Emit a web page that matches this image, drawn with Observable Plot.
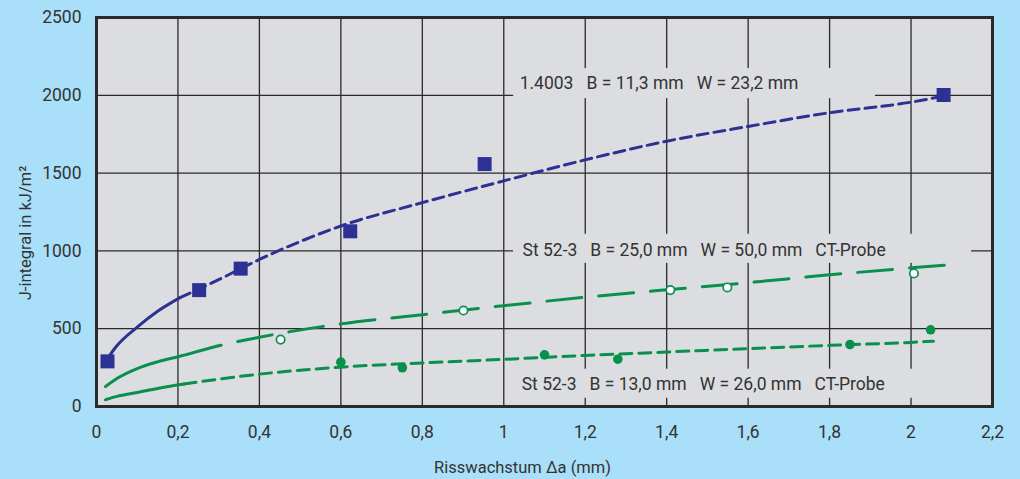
<!DOCTYPE html>
<html>
<head>
<meta charset="utf-8">
<script src="https://cdn.jsdelivr.net/npm/d3@7"></script>
<script src="https://cdn.jsdelivr.net/npm/@observablehq/plot@0.6"></script>
<style>
html, body { margin: 0; padding: 0; background: #a9dff9; }
#chart svg { display: block; }
</style>
</head>
<body>
<div id="chart"></div>
<script>
// ---------- axis ticks ----------
const xTicks = [0, 0.2, 0.4, 0.6, 0.8, 1, 1.2, 1.4, 1.6, 1.8, 2, 2.2];
const xTickLabels = ["0", "0,2", "0,4", "0,6", "0,8", "1", "1,2", "1,4", "1,6", "1,8", "2", "2,2"];
const yTicks = [0, 500, 1000, 1500, 2000, 2500];
const xTitle = "Risswachstum \u0394a (mm)";
const yTitle = "J-integral in kJ/m\u00b2";

// ---------- 1.4003  B = 11,3 mm  W = 23,2 mm (squares) ----------
const steelPointsX = [0.027, 0.252, 0.354, 0.623, 0.953, 2.080];
const steelPointsY = [290, 748, 886, 1126, 1558, 2002];
const steelCurveX = [0.025, 0.05, 0.1, 0.15, 0.205, 0.3, 0.35, 0.4, 0.5, 0.6, 0.8, 1.0, 1.2, 1.4, 1.6, 1.8, 2.0, 2.08];
const steelCurveY = [300, 390, 510, 612, 700, 815, 880, 945, 1060, 1160, 1310, 1450, 1585, 1705, 1800, 1888, 1956, 1995];
const steelSolidUntil = 0.205;

// ---------- St 52-3  B = 25,0 mm (open circles) ----------
const st25PointsX = [0.452, 0.901, 1.409, 1.549, 2.007];
const st25PointsY = [430, 617, 748, 765, 855];
const st25CurveX = [0.022, 0.05, 0.1, 0.15, 0.2, 0.223, 0.3, 0.4, 0.6, 0.8, 1.0, 1.2, 1.4, 1.6, 1.8, 2.0, 2.1];
const st25CurveY = [128, 180, 244, 287, 320, 335, 390, 445, 531, 590, 648, 702, 750, 796, 846, 891, 912];
const st25SolidUntil = 0.223;

// ---------- St 52-3  B = 13,0 mm (filled circles) ----------
const st13PointsX = [0.600, 0.751, 1.100, 1.280, 1.850, 2.048];
const st13PointsY = [285, 249, 332, 304, 398, 493];
const st13CurveX = [0.022, 0.05, 0.1, 0.15, 0.215, 0.4, 0.6, 0.8, 1.0, 1.2, 1.4, 1.6, 1.8, 2.0, 2.055];
const st13CurveY = [43, 65, 90, 116, 145, 208, 253, 280, 303, 328, 350, 372, 393, 412, 420];
const st13SolidUntil = 0.215;

// ---------- annotations ----------
const S = "\u00a0\u00a0\u00a0";
const labelTexts = [
  "1.4003" + S + "B = 11,3 mm" + S + "W = 23,2 mm",
  "St 52-3" + S + "B = 25,0 mm" + S + "W = 50,0 mm" + S + "CT-Probe",
  "St 52-3" + S + "B = 13,0 mm" + S + "W = 26,0 mm" + S + "CT-Probe"
];
const labelX = [1.039, 1.046, 1.044];
const labelY = [2075, 1004, 143];

// ---------- styles ----------
const blue = "#2d3194";
const green = "#08904c";
const plotBg = "#dcdde0";
const ink = "#2a2a2a";
const textColor = "#333333";
const fontFamily = "Roboto, 'Noto Sans', sans-serif";
const boxPad = [ // [left, right, up, down] of label background boxes, px
  [6, 77, 15, 15],
  [9, 86, 16, 13],
  [6, 86, 15, 14]
];

const pts = (xs, ys) => xs.map((x, i) => ({x, y: ys[i]}));
const steelCurve = pts(steelCurveX, steelCurveY);
const st25Curve = pts(st25CurveX, st25CurveY);
const st13Curve = pts(st13CurveX, st13CurveY);
const labels = labelTexts.map((t, i) => ({t, x: labelX[i], y: labelY[i]}));

const solidPart = (c, lim) => c.filter(d => d.x <= lim + 1e-9);
const dashedPart = (c, lim) => c.filter(d => d.x >= lim - 1e-9);
const lineOpts = {x: "x", y: "y", strokeWidth: 3, curve: "monotone-x"};

const chart = Plot.plot({
  width: 1020,
  height: 479,
  marginLeft: 96,
  marginRight: 28,
  marginTop: 17,
  marginBottom: 73,
  style: {
    background: "transparent",
    fontFamily,
    fontSize: "17.5px",
    color: textColor
  },
  x: {domain: [0, 2.2]},
  y: {domain: [0, 2500]},
  marks: [
    Plot.frame({fill: plotBg}),
    Plot.gridX(xTicks.slice(1, -1), {stroke: ink, strokeOpacity: 1, strokeWidth: 1.3}),
    Plot.gridY(yTicks.slice(1, -1), {stroke: ink, strokeOpacity: 1, strokeWidth: 1.3}),
    Plot.text(labels, {x: "x", y: "y", text: "t", textAnchor: "start", lineAnchor: "middle",
      fill: textColor, fontSize: 17.5}),
    // curves
    Plot.line(solidPart(steelCurve, steelSolidUntil), {...lineOpts, stroke: blue}),
    Plot.line(dashedPart(steelCurve, steelSolidUntil), {...lineOpts, stroke: blue, strokeDasharray: "11,6"}),
    Plot.line(solidPart(st25Curve, st25SolidUntil), {...lineOpts, stroke: green}),
    Plot.line(dashedPart(st25Curve, st25SolidUntil), {...lineOpts, stroke: green, strokeDasharray: "35,17"}),
    Plot.line(solidPart(st13Curve, st13SolidUntil), {...lineOpts, stroke: green}),
    Plot.line(dashedPart(st13Curve, st13SolidUntil), {...lineOpts, stroke: green, strokeDasharray: "12,7"}),
    // points
    Plot.dot(pts(steelPointsX, steelPointsY), {x: "x", y: "y", symbol: "square", r: 7.9, fill: blue, stroke: "none"}),
    Plot.dot(pts(st25PointsX, st25PointsY), {x: "x", y: "y", r: 4.2, fill: "white", stroke: green, strokeWidth: 1.7}),
    Plot.dot(pts(st13PointsX, st13PointsY), {x: "x", y: "y", r: 4.8, fill: green, stroke: "none"}),
    // frame & axes
    Plot.frame({stroke: ink, strokeWidth: 3}),
    Plot.axisX(xTicks, {tickSize: 0, tickPadding: 19, tickFormat: (d, i) => xTickLabels[i],
      fill: textColor, label: null}),
    Plot.axisY(yTicks, {tickSize: 0, tickPadding: 15, fill: textColor, tickFormat: d => String(d), label: null}),
    Plot.text([xTitle], {frameAnchor: "bottom", dx: -22, dy: 61, textAnchor: "middle", lineAnchor: "middle", fill: textColor, fontSize: 16.5}),
    Plot.text([yTitle], {frameAnchor: "left", dx: -71, dy: 21, rotate: -90, textAnchor: "middle", lineAnchor: "middle", fill: textColor, fontSize: 16.5})
  ]
});

document.getElementById("chart").append(chart);

// gray boxes behind the series labels (they interrupt the grid as in the original)
(function addLabelBoxes() {
  const ns = "http://www.w3.org/2000/svg";
  const labelGroup = chart.querySelector('g[aria-label="text"]');
  if (!labelGroup) return;
  const ctx = document.createElement("canvas").getContext("2d");
  ctx.font = "17.5px " + fontFamily;
  const sx = chart.scale("x"), sy = chart.scale("y");
  const boxG = document.createElementNS(ns, "g");
  labels.forEach((d, i) => {
    const px = sx.apply(d.x), py = sy.apply(d.y);
    const w = ctx.measureText(d.t).width;
    const p = boxPad[i];
    const r = document.createElementNS(ns, "rect");
    r.setAttribute("x", px - p[0]);
    r.setAttribute("y", py - p[2]);
    r.setAttribute("width", w + p[0] + p[1]);
    r.setAttribute("height", p[2] + p[3]);
    r.setAttribute("fill", plotBg);
    boxG.append(r);
  });
  labelGroup.parentNode.insertBefore(boxG, labelGroup);
})();
</script>
</body>
</html>
